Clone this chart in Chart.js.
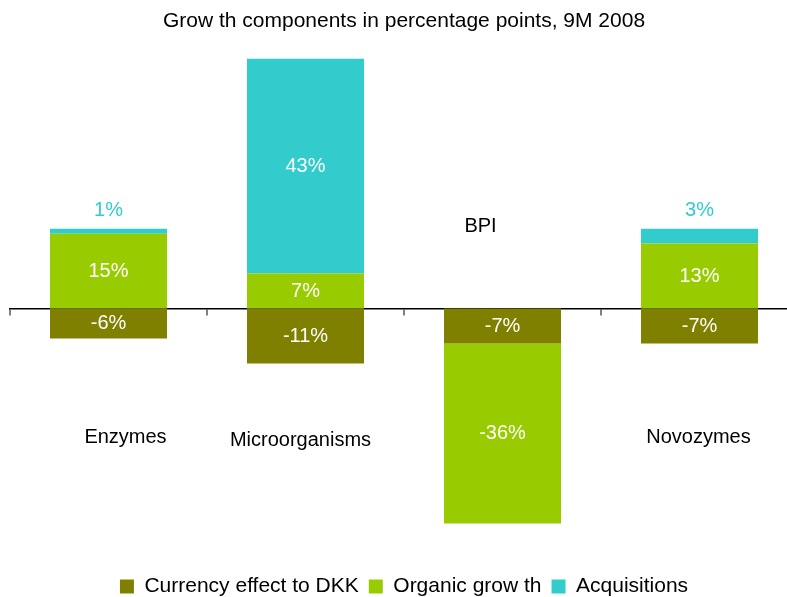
<!DOCTYPE html>
<html>
<head>
<meta charset="utf-8">
<script src="https://cdn.jsdelivr.net/npm/chart.js@4/dist/chart.umd.min.js"></script>
<style>
  html, body { margin: 0; padding: 0; overflow: hidden; background: #fff; }
  #wrap { width: 800px; height: 597px; }
</style>
</head>
<body>
<div id="wrap"><canvas id="grafico" width="800" height="597"></canvas></div>
<script>
const categories = ['Enzymes', 'Microorganisms', 'BPI', 'Novozymes']
const currency = [-6, -11, -7, -7]
const organic = [15, 7, -36, 13]
const acquisitions = [1, 43, 0, 3]

// where the category names sit (value on y axis, x shift in px)
const catLabelY = [-25.8, -26.4, 16.4, -25.8]
const catLabelDx = [17, -5, -22, -1]

Chart.defaults.font.family = '"Liberation Sans", Arial, sans-serif'
Chart.defaults.color = '#000'

const FONT = '20px "Liberation Sans", Arial, sans-serif'

const barLabels = {
  id: 'barLabels',
  afterDatasetsDraw(chart) {
    const c = chart.ctx
    const xs = chart.scales.x, ys = chart.scales.y
    c.save()
    c.font = FONT
    c.textAlign = 'center'
    c.textBaseline = 'middle'
    chart.data.datasets.forEach((ds, di) => {
      chart.getDatasetMeta(di).data.forEach((bar, i) => {
        const v = ds.data[i]
        if (!v) return
        const top = Math.min(bar.y, bar.base)
        if (Math.abs(v) < 5 && di == 2) {
          c.fillStyle = ds.backgroundColor
          c.fillText(v + '%', bar.x, top - 18)
        } else {
          c.fillStyle = '#fff'
          c.fillText(v + '%', bar.x, (bar.y + bar.base) / 2)
        }
      })
    })
    // category names
    c.fillStyle = '#000'
    categories.forEach((name, i) => {
      c.fillText(name, xs.getPixelForValue(i) + catLabelDx[i], ys.getPixelForValue(catLabelY[i]))
    })
    c.restore()
  }
}

const data = {
  labels: categories,
  datasets: [
    { label: 'Currency effect to DKK', data: currency, backgroundColor: '#808000' },
    { label: 'Organic grow th', data: organic, backgroundColor: '#99CC00' },
    { label: 'Acquisitions', data: acquisitions, backgroundColor: '#33CCCC' }
  ]
}

const config = {
  type: 'bar',
  data,
  options: {
    responsive: false,
    animation: false,
    categoryPercentage: 1,
    barPercentage: 0.594,
    layout: { padding: { left: 10, right: 2, top: 0, bottom: -10 } },
    plugins: {
      title: {
        display: true,
        text: 'Grow th components in percentage points, 9M 2008',
        font: { size: 21, weight: 'normal' },
        color: '#000',
        padding: { top: 9, bottom: 12 }
      },
      legend: {
        position: 'bottom',
        labels: {
          boxWidth: 14, boxHeight: 14, padding: 10,
          font: { size: 21 }, color: '#000'
        }
      },
      tooltip: { enabled: false }
    },
    scales: {
      x: {
        stacked: true,
        position: { y: 0 },
        ticks: { display: false },
        grid: { offset: true, drawOnChartArea: false, tickLength: 6, color: '#808080', lineWidth: 2 },
        border: { color: '#000', width: 1.5 }
      },
      y: {
        stacked: true,
        display: false,
        min: -51.5,
        max: 52.5
      }
    }
  },
  plugins: [barLabels]
}

const graph = new Chart(document.getElementById('grafico'), config)
</script>
</body>
</html>
